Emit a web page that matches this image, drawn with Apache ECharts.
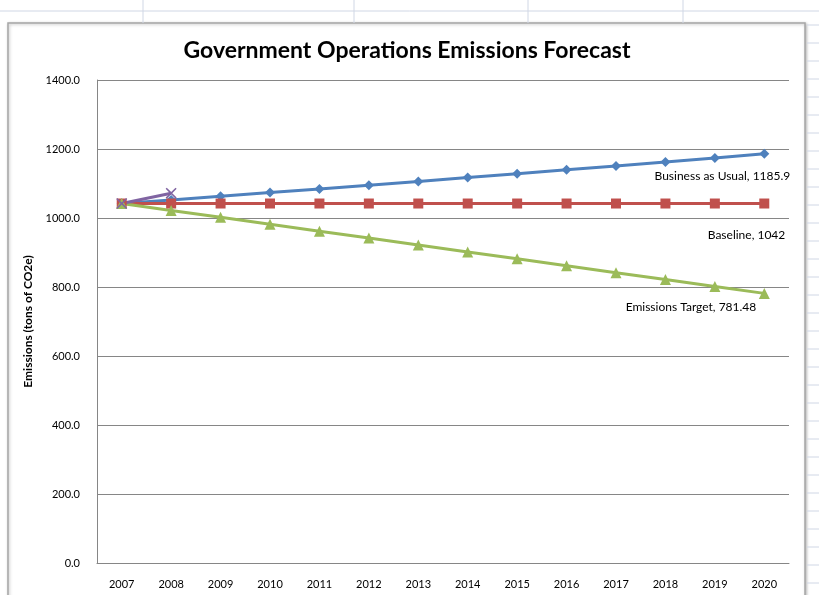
<!DOCTYPE html>
<html><head><meta charset="utf-8">
<script src="https://cdn.jsdelivr.net/npm/echarts@6/dist/echarts.min.js"></script>
<style>html,body{margin:0;padding:0;background:#fff}#c{width:819px;height:595px}</style>
</head><body><div id="c"></div>
<script>
const years = ['2007','2008','2009','2010','2011','2012','2013','2014','2015','2016','2017','2018','2019','2020'];
const businessAsUsual = [1042, 1052.4, 1062.9, 1073.6, 1084.3, 1095.1, 1106.1, 1117.2, 1128.3, 1139.6, 1151.0, 1162.5, 1174.2, 1185.9];
const baseline = [1042, 1042, 1042, 1042, 1042, 1042, 1042, 1042, 1042, 1042, 1042, 1042, 1042, 1042];
const emissionsTarget = [1042, 1021.96, 1001.92, 981.88, 961.84, 941.8, 921.76, 901.72, 881.68, 861.64, 841.6, 821.56, 801.52, 781.48];
const actual = [1042, 1072];
const yTicks = [0, 200, 400, 600, 800, 1000, 1200, 1400];

const FONT = 'Lato, "Open Sans", sans-serif';
const chart = echarts.init(document.getElementById('c'));

function withLastLabel(arr, name, offset) {
  return arr.map((v, i) => i === arr.length - 1 ? {
    value: v,
    label: {show: true, position: 'bottom', align: 'right', offset: offset,
      formatter: name + ', ' + v, fontFamily: FONT, fontSize: 12, color: '#000'}
  } : v);
}

// decorative spreadsheet background lines
const deco = [];
deco.push({type:'line', shape:{x1:0,y1:11,x2:819,y2:11}, style:{stroke:'#d0d7e5', lineWidth:1}, silent:true});
[143, 354, 528, 683].forEach(x => deco.push({type:'line', shape:{x1:x,y1:0,x2:x,y2:23}, style:{stroke:'#d0d7e5', lineWidth:1}, silent:true}));
for (let y = 25; y < 595; y += 18) deco.push({type:'line', shape:{x1:807,y1:y,x2:819,y2:y}, style:{stroke:'#d0d7e5', lineWidth:1}, silent:true});
deco.push({type:'rect', shape:{x:8,y:23,width:797,height:590}, style:{fill:'#fff', stroke:'#a6a6a6', lineWidth:1.5, shadowColor:'rgba(0,0,0,0.25)', shadowBlur:3, shadowOffsetX:1, shadowOffsetY:1}, silent:true, z:-10});

chart.setOption({
  animation: false,
  backgroundColor: '#fff',
  graphic: deco,
  title: {text: 'Government Operations Emissions Forecast', left: 402, textAlign: 'center', top: 34,
    textStyle: {fontFamily: FONT, fontWeight: 'bold', fontSize: 23, color: '#000'}},
  grid: {left: 97, right: 30, top: 80, bottom: 32},
  xAxis: {type: 'category', data: years, boundaryGap: true,
    axisLine: {lineStyle: {color: '#868686', width: 1}}, axisTick: {show: false},
    axisLabel: {fontFamily: FONT, fontSize: 11, color: '#000', margin: 16}},
  yAxis: {type: 'value', min: 0, max: 1400, interval: 200,
    name: 'Emissions (tons of CO2e)', nameLocation: 'middle', nameGap: 62, nameRotate: 90,
    nameTextStyle: {fontFamily: FONT, fontWeight: 'bold', fontSize: 12, color: '#000'},
    axisLine: {show: true, lineStyle: {color: '#868686'}}, axisTick: {show: false},
    splitLine: {lineStyle: {color: '#868686', width: 1}},
    axisLabel: {fontFamily: FONT, fontSize: 11, color: '#000', margin: 17, formatter: v => v.toFixed(1)}},
  series: [
    {name: 'Business as Usual', type: 'line', data: withLastLabel(businessAsUsual, 'Business as Usual', [26, 6]),
      symbol: 'diamond', symbolSize: 10, color: '#4F81BD', lineStyle: {width: 3}},
    {name: 'Baseline', type: 'line', data: withLastLabel(baseline, 'Baseline', [21, 16]),
      symbol: 'rect', symbolSize: 10, color: '#C0504D', lineStyle: {width: 3}},
    {name: 'Emissions Target', type: 'line', data: withLastLabel(emissionsTarget, 'Emissions Target', [-8, -3]),
      symbol: 'triangle', symbolSize: 11, color: '#9BBB59', lineStyle: {width: 3}},
    {name: 'Actual', type: 'line', data: actual,
      symbol: 'path://M0,1L1,0L5,4L9,0L10,1L6,5L10,9L9,10L5,6L1,10L0,9L4,5Z', symbolSize: 11,
      color: '#8064A2', lineStyle: {width: 3}}
  ]
});
</script></body></html>
